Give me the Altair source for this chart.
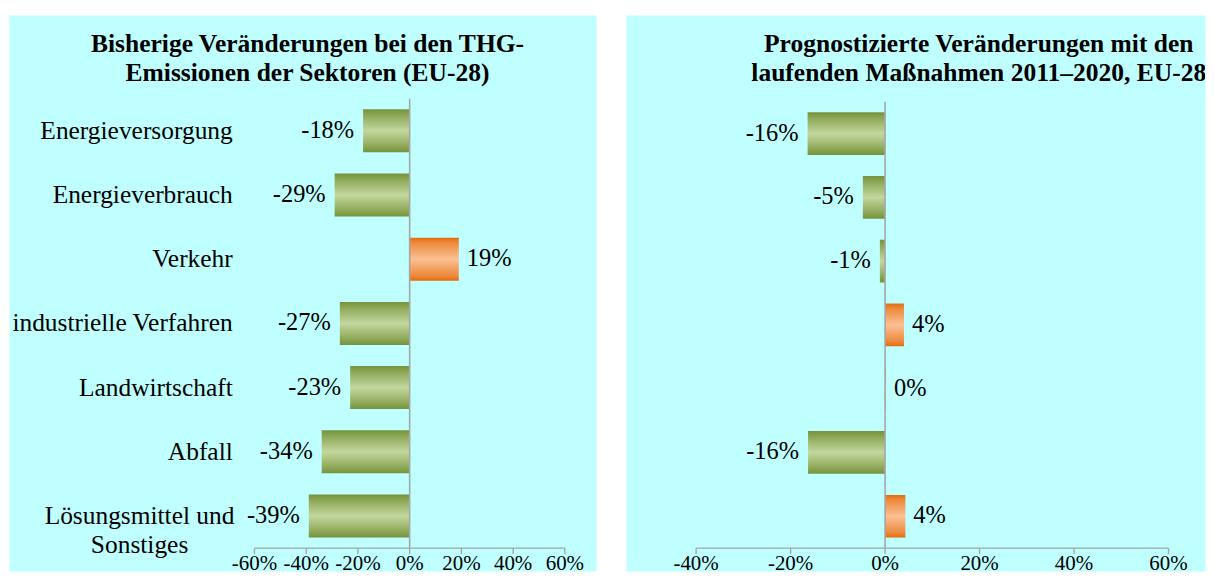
import altair as alt
import pandas as pd

# ---------------- data ----------------
sectors = [
    "Energieversorgung",
    "Energieverbrauch",
    "Verkehr",
    "industrielle Verfahren",
    "Landwirtschaft",
    "Abfall",
    "Lösungsmittel und\nSonstiges",
]
past_change = [-18, -29, 19, -27, -23, -34, -39]
past_labels = ["-18%", "-29%", "19%", "-27%", "-23%", "-34%", "-39%"]
proj_change = [-16.4, -4.7, -1.1, 4.0, 0.2, -16.3, 4.3]
proj_labels = ["-16%", "-5%", "-1%", "4%", "0%", "-16%", "4%"]
left_ticks = [-60, -40, -20, 0, 20, 40, 60]
right_ticks = [-40, -20, 0, 20, 40, 60]
left_title = ["Bisherige Veränderungen bei den THG-", "Emissionen der Sektoren (EU-28)"]
right_title = ["Prognostizierte Veränderungen mit den", "laufenden Maßnahmen 2011–2020, EU-28"]

FONT = "Liberation Serif"
BG = "#BFFFFF"
AXIS_GRAY = "#A6A6A6"

GREEN_GRAD = {
    "gradient": "linear",
    "x1": 0, "x2": 0, "y1": 0, "y2": 1,
    "stops": [
        {"offset": 0, "color": "#76923C"},
        {"offset": 0.12, "color": "#8AA553"},
        {"offset": 0.5, "color": "#C4D79F"},
        {"offset": 0.88, "color": "#8AA553"},
        {"offset": 1, "color": "#76923C"},
    ],
}
ORANGE_GRAD = {
    "gradient": "linear",
    "x1": 0, "x2": 0, "y1": 0, "y2": 1,
    "stops": [
        {"offset": 0, "color": "#E46C0A"},
        {"offset": 0.12, "color": "#EC8A3D"},
        {"offset": 0.5, "color": "#FBC093"},
        {"offset": 0.88, "color": "#EC8A3D"},
        {"offset": 1, "color": "#E46C0A"},
    ],
}

PANEL_W_LEFT = 589
PANEL_W_RIGHT = 581
PANEL_H = 558


def panel(values, labels, ticks, domain, yrange, title_lines, title_x, show_cats, width):
    df = pd.DataFrame({"sector": sectors, "v": values, "lab": labels})
    tdf = pd.DataFrame({"t": ticks, "tl": [f"{t}%" for t in ticks]})
    one = pd.DataFrame({"ttl": ["\n".join(title_lines)], "z": [0]})
    ends = pd.DataFrame({"a": [min(ticks)], "b": [max(ticks)]})

    xs = alt.Scale(domain=domain, nice=False, zero=False)
    Y = alt.Y("sector:N", sort=sectors, axis=None,
              scale=alt.Scale(range=yrange, paddingInner=0.33, paddingOuter=0.165))
    base = alt.Chart(df)

    bars_g = base.transform_filter("datum.v < 1").mark_bar(fill=GREEN_GRAD).encode(
        x=alt.X("v:Q", scale=xs, axis=None), y=Y)
    bars_o = base.transform_filter("datum.v >= 1").mark_bar(fill=ORANGE_GRAD).encode(
        x=alt.X("v:Q", scale=xs, axis=None), y=Y)

    zero = alt.Chart(one).mark_rule(color=AXIS_GRAY, strokeWidth=1.6).encode(
        x=alt.X("z:Q", scale=xs, axis=None), y=alt.value(yrange[0]), y2=alt.value(yrange[1]))
    axis_line = alt.Chart(ends).mark_rule(color=AXIS_GRAY, strokeWidth=1.4).encode(
        x=alt.X("a:Q", scale=xs, axis=None), x2="b:Q", y=alt.value(yrange[1]))
    tick_marks = alt.Chart(tdf).mark_rule(color=AXIS_GRAY, strokeWidth=1.4).encode(
        x=alt.X("t:Q", scale=xs, axis=None), y=alt.value(yrange[1]), y2=alt.value(yrange[1] + 6))
    tick_labels = alt.Chart(tdf).mark_text(
        font=FONT, fontSize=21, baseline="alphabetic", align="center", color="black").encode(
        x=alt.X("t:Q", scale=xs, axis=None), y=alt.value(yrange[1] + 22), text="tl:N")

    neg_lab = base.transform_filter("datum.v < 0").mark_text(
        font=FONT, fontSize=24.5, align="right", baseline="middle", dx=-9, color="black").encode(
        x=alt.X("v:Q", scale=xs, axis=None), y=Y, text="lab:N")
    pos_lab = base.transform_filter("datum.v >= 0").mark_text(
        font=FONT, fontSize=24.5, align="left", baseline="middle", dx=8, color="black").encode(
        x=alt.X("v:Q", scale=xs, axis=None), y=Y, text="lab:N")

    title = alt.Chart(one).mark_text(
        font=FONT, fontSize=25.6, fontWeight="bold", align="center", baseline="top",
        lineBreak="\n", lineHeight=29, color="black", clip=True).encode(
        x=alt.value(title_x), y=alt.value(17), text="ttl:N")

    layers = [bars_g, bars_o, zero, axis_line, tick_marks, tick_labels, neg_lab, pos_lab, title]

    if show_cats:
        cat1 = base.transform_filter("indexof(datum.sector, '\\n') < 0").mark_text(
            font=FONT, fontSize=25.5, align="right", baseline="middle", color="black").encode(
            x=alt.value(224.5), y=Y, text="sector:N")
        cat2 = base.transform_filter("indexof(datum.sector, '\\n') >= 0").mark_text(
            font=FONT, fontSize=25.5, align="center", baseline="middle", lineBreak="\n",
            lineHeight=29, color="black").encode(
            x=alt.value(131), y=Y, text="sector:N")
        layers += [cat1, cat2]

    return alt.layer(*layers).properties(width=width, height=PANEL_H)


left = panel(past_change, past_labels, left_ticks, [-154.9, 72.06], [84, 535],
             left_title, 299.5, True, PANEL_W_LEFT)
right = panel(proj_change, proj_labels, right_ticks, [-54.85, 67.72], [87, 535],
              right_title, 354, False, PANEL_W_RIGHT)

chart = (
    alt.hconcat(left, right, spacing=28)
    .properties(padding={"left": 0, "top": 5, "right": 0, "bottom": 0}, background="white")
    .configure_view(fill=BG, stroke="transparent")
)

chart.save("out.html", embed_options={"renderer": "svg", "actions": False})
